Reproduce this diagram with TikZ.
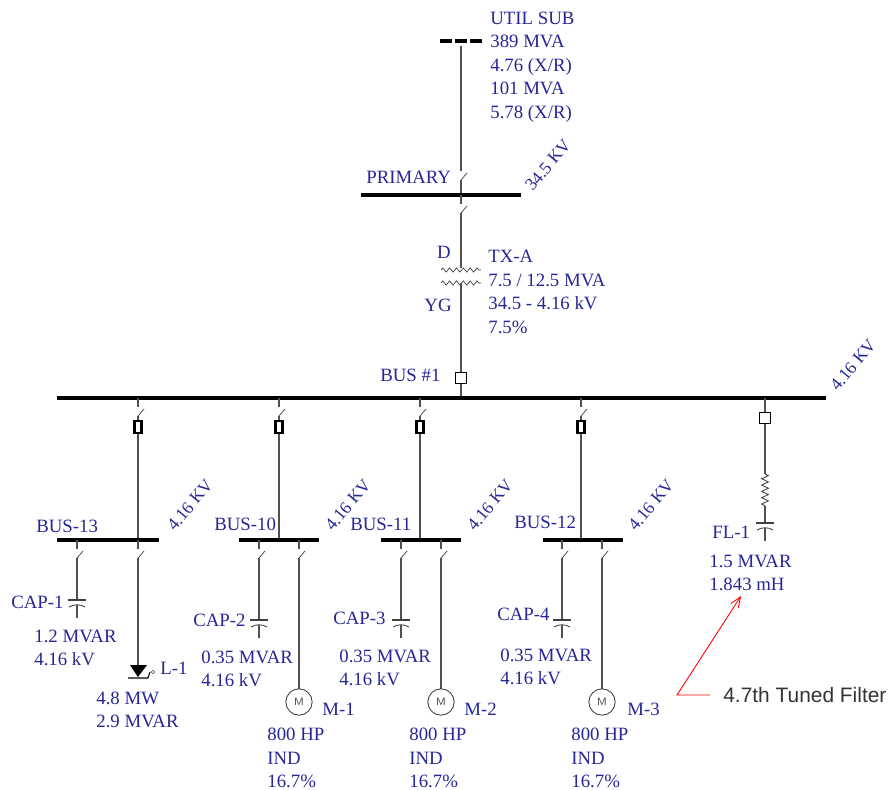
\documentclass[tikz,border=0pt]{standalone}
\usepackage{fontspec}
\setmainfont{Liberation Serif}
\newfontfamily\notefont{Liberation Sans}
\usetikzlibrary{arrows.meta,decorations.pathmorphing}
\definecolor{labelblue}{RGB}{38,38,150}
\definecolor{wiregray}{RGB}{80,80,80}
\tikzset{
    wire/.style={draw=wiregray, line width=0.95pt},
    thinwire/.style={draw=black!75, line width=0.4pt},
    busbar/.style={draw=black, line width=1.75pt},
    lbl/.style={anchor=west, inner sep=0pt, text=labelblue, font=\fontsize{10.7}{13.4}\selectfont, align=left},
    volt/.style={inner sep=0pt, text=labelblue, font=\fontsize{10}{12}\selectfont, rotate=50},
    breaker/.style={draw=black, fill=white, line width=0.7pt, minimum width=6.2pt, minimum height=6.2pt, inner sep=0pt},
    drawout/.style={draw=black, fill=white, line width=1.4pt, minimum width=3.8pt, minimum height=6.8pt, inner sep=0pt},
    coilwire/.style={draw=black!75, line width=0.4pt, decorate, decoration={zigzag, segment length=3.9pt, amplitude=1.2pt}},
    coilfilter/.style={draw=black!75, line width=0.5pt, decorate, decoration={zigzag, segment length=3.6pt, amplitude=1.9pt}},
}
% open switch: wire from #1 down to the gap, blade, wire on to #2
\newcommand{\switchwire}[4]{%
    \coordinate (#1top) at (#2,#3);
    \coordinate (#1a) at (#2,#3+9);
    \coordinate (#1b) at (#2,#3+18);
    \coordinate (#1c) at (#2+6,#3+11);
    \coordinate (#1end) at (#2,#4);
    \draw[wire] (#1top) -- (#1a);
    \draw[wire] (#1b) -- (#1end);
    \draw[thinwire] (#1b) -- (#1c);
}
% capacitor bank below (#2,#3)
\newcommand{\capbank}[3]{%
    \coordinate (#1l) at (#2-9,#3);
    \coordinate (#1r) at (#2+9,#3);
    \coordinate (#1tip) at (#2,#3+18);
    \coordinate (#1arc) at (#2,#3+5);
    \draw[thinwire, line width=0.7pt] (#1l) -- (#1r);
    \draw[thinwire, line width=0.5pt] (#2-8,#3+7) .. controls (#2-3,#3+4) and (#2+3,#3+4) .. (#2+8,#3+7);
    \draw[wire, line width=0.7pt] (#1arc) -- (#1tip);
}

\begin{document}
\begin{tikzpicture}[x=0.02cm, y=-0.02cm]
    \useasboundingbox (0,0) rectangle (889,790);
    % Utility source
    \coordinate (utilL) at (440,41);
    \coordinate (utilR) at (482,41);
    \coordinate (utilT) at (461,46);
    \draw[busbar, line width=2.4pt, dash pattern=on 6.8pt off 1.7pt] (utilL) -- (utilR);
    \switchwire{up}{461}{46+116}{195}
    \draw[wire] (utilT) -- (upa);
    \coordinate (primL) at (361,195);
    \coordinate (primR) at (521,195);
    \draw[busbar] (primL) -- (primR);
    \node[lbl] (utilText) at (490,67) {UTIL SUB\\389 MVA\\4.76 (X/R)\\101 MVA\\5.78 (X/R)};
    \node[lbl] (primary) at (366,177) {PRIMARY};
    \node[volt] (primaryKv) at (548,165) {34.5 KV};
    % Transformer
    \switchwire{tx}{461}{195}{268}
    \coordinate (txHiL) at (441,270);
    \coordinate (txHiR) at (481,270);
    \coordinate (txLoL) at (441,283);
    \coordinate (txLoR) at (481,283);
    \coordinate (txLo) at (461,283);
    \draw[coilwire] (txHiL) -- (txHiR);
    \draw[coilwire] (txLoL) -- (txLoR);
    \node[breaker] (mainBrk) at (461,378) {};
    \draw[wire] (txLo) -- (mainBrk);
    \node[lbl, anchor=center] (txD) at (444,252) {D};
    \node[lbl, anchor=center] (txY) at (438,305) {YG};
    \node[lbl] (txText) at (488,292) {TX-A\\7.5 / 12.5 MVA\\34.5 - 4.16 kV\\7.5\%};
    % Main bus
    \coordinate (busL) at (57,398);
    \coordinate (busR) at (826,398);
    \coordinate (busJoin) at (461,398);
    \draw[wire] (mainBrk) -- (busJoin);
    \draw[busbar] (busL) -- (busR);
    \node[lbl] (busOne) at (380,375) {BUS \#1};
    \node[volt] (busOneKv) at (853,365) {4.16 KV};
    % Feeders
    \foreach \fname/\fx/\bl/\br in {a/138/57/159, b/279/239/319, c/420/381/461, d/581/543/623}{
        \switchwire{\fname}{\fx}{398}{540}
        \node[drawout] (\fname brk) at (\fx,427) {};
        \coordinate (\fname busL) at (\bl,540);
        \coordinate (\fname busR) at (\br,540);
        \draw[busbar] (\fname busL) -- (\fname busR);
    }
    % Motor branches
    \foreach \mname/\cx/\cy/\mx/\mnum/\lx/\tx in {b/259/620/299/1/322/267, c/401/620/441/2/464/409, d/562/620/602/3/627/571}{
        \switchwire{\mname cap}{\cx}{540}{\cy}
        \capbank{\mname bank}{\cx}{\cy}
        \switchwire{\mname mot}{\mx}{540}{689}
        \node[circle, draw=black!75, line width=0.5pt, minimum size=15pt, inner sep=0pt, font=\fontsize{6}{6}\selectfont\sffamily, text=black!75] (\mname motor) at (\mx,702) {M};
        \node[lbl] (\mname motorName) at (\lx,709) {M-\mnum};
        \node[lbl] (\mname motorText) at (\tx,758) {800 HP\\IND\\16.7\%};
    }
    % BUS-13 branches
    \switchwire{acap}{77}{540}{600}
    \capbank{abank}{77}{600}
    \switchwire{aload}{138}{540}{665}
    \coordinate (loadL) at (130,665);
    \coordinate (loadR) at (147,665);
    \coordinate (loadTip) at (138,677);
    \coordinate (loadBaseL) at (128,678);
    \coordinate (loadBaseR) at (148,678);
    \coordinate (loadTail) at (150,672);
    \fill[black] (loadL) -- (loadR) -- (loadTip) -- cycle;
    \draw[wire, draw=black, line width=0.6pt] (loadBaseL) -- (loadBaseR) -- (loadTail);
    \node[circle, draw=black!70, line width=0.3pt, minimum size=2pt, inner sep=0pt] (loadDot) at (153,672) {};
    \node[lbl] (capOne) at (11,602) {CAP-1};
    \node[lbl] (capOneText) at (34,648) {1.2 MVAR\\4.16 kV};
    \node[lbl] (loadName) at (160,668) {L-1};
    \node[lbl] (loadText) at (96,710) {4.8 MW\\2.9 MVAR};
    % Filter branch
    \node[breaker] (filtBrk) at (765,418) {};
    \coordinate (filtTop) at (765,398);
    \coordinate (filtR1) at (765,474);
    \coordinate (filtR2) at (765,506);
    \coordinate (filtC) at (765,523);
    \draw[wire] (filtTop) -- (filtBrk);
    \draw[wire] (filtBrk) -- (filtR1);
    \draw[coilfilter] (filtR1) -- (filtR2);
    \draw[wire] (filtR2) -- (filtC);
    \capbank{fbank}{765}{523}
    \node[lbl] (filtName) at (712,532) {FL-1};
    \node[lbl] (filtText) at (709,573) {1.5 MVAR\\1.843 mH};
    % Bus and capacitor labels
    \node[lbl] (busThirteen) at (36,526) {BUS-13};
    \node[lbl] (busTen) at (214,524) {BUS-10};
    \node[lbl] (busEleven) at (350,524) {BUS-11};
    \node[lbl] (busTwelve) at (514,522) {BUS-12};
    \foreach \kvname/\kx in {kvA/190, kvB/348, kvC/490, kvD/651}{
        \node[volt] (\kvname) at (\kx,505) {4.16 KV};
    }
    \node[lbl] (capTwo) at (193,620) {CAP-2};
    \node[lbl] (capTwoText) at (201,669) {0.35 MVAR\\4.16 kV};
    \node[lbl] (capThree) at (333,618) {CAP-3};
    \node[lbl] (capThreeText) at (339,668) {0.35 MVAR\\4.16 kV};
    \node[lbl] (capFour) at (497,614) {CAP-4};
    \node[lbl] (capFourText) at (500,667) {0.35 MVAR\\4.16 kV};
    % Note
    \node[anchor=west, inner sep=0pt, text=black!80, font=\notefont\fontsize{11.9}{13}\selectfont] (tunedNote) at (723,695) {4.7th Tuned Filter};
    \coordinate (noteStart) at (710,695);
    \coordinate (noteKnee) at (677,695);
    \coordinate (noteTip) at (741,596);
    \draw[red, line width=0.5pt, -{Straight Barb[length=6pt,width=5pt]}] (noteStart) -- (noteKnee) -- (noteTip);
\end{tikzpicture}
\end{document}
